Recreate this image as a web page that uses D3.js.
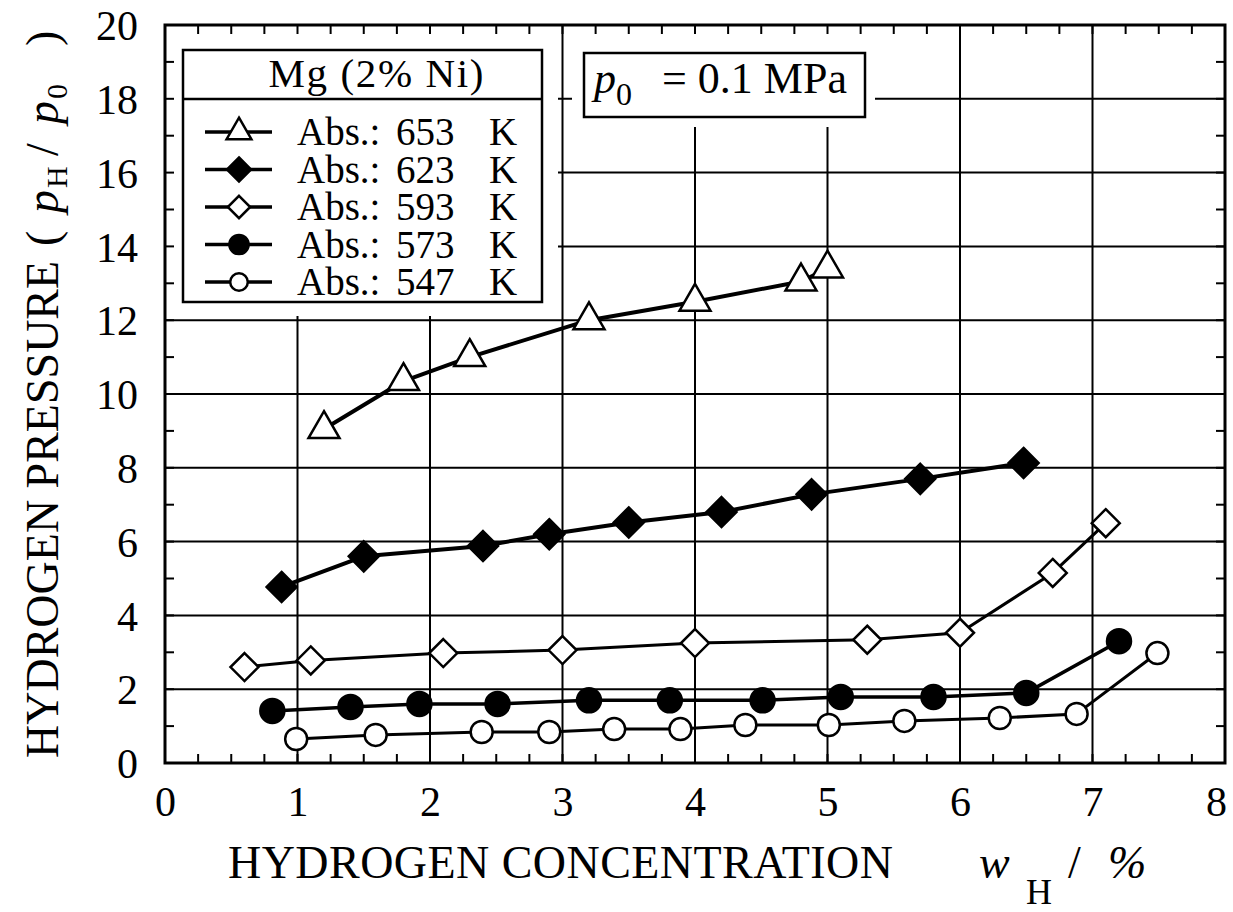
<!DOCTYPE html>
<html><head><meta charset="utf-8">
<script src="https://cdn.jsdelivr.net/npm/d3@7"></script>
<style>body{margin:0;background:#fff}svg{display:block}text{font-family:"Liberation Serif","Times New Roman",serif;fill:#000}</style>
</head><body>
<svg id="chart" width="1233" height="912"></svg>
<script>
// ---- data ----
const xTickValues = [0, 1, 2, 3, 4, 5, 6, 7, 8];
const yTickValues = [0, 2, 4, 6, 8, 10, 12, 14, 16, 18, 20];
const legendTitle = "Mg (2% Ni)";
const seriesTemps = ["653", "623", "593", "573", "547"];

const x653 = [1.2, 1.8, 2.3, 3.2, 4.0, 4.8, 5.0];
const y653 = [9.05, 10.35, 11.0, 12.0, 12.5, 13.05, 13.4];

const x623 = [0.88, 1.5, 2.4, 2.9, 3.5, 4.2, 4.88, 5.7, 6.48];
const y623 = [4.77, 5.6, 5.88, 6.2, 6.52, 6.8, 7.28, 7.7, 8.13];

const x593 = [0.6, 1.1, 2.1, 3.0, 4.0, 5.3, 6.0, 6.7, 7.1];
const y593 = [2.6, 2.78, 2.98, 3.06, 3.25, 3.34, 3.53, 5.15, 6.5];

const x573 = [0.81, 1.4, 1.92, 2.51, 3.2, 3.81, 4.51, 5.1, 5.8, 6.5, 7.2];
const y573 = [1.41, 1.52, 1.6, 1.6, 1.7, 1.7, 1.7, 1.79, 1.79, 1.9, 3.3];

const x547 = [0.99, 1.59, 2.39, 2.9, 3.39, 3.89, 4.38, 5.01, 5.58, 6.3, 6.88, 7.49];
const y547 = [0.65, 0.76, 0.84, 0.84, 0.92, 0.92, 1.03, 1.03, 1.14, 1.22, 1.33, 2.98];

// ---- layout ----
const svg = d3.select("#chart");
const L = 165, R = 1225, T = 25, B = 763;
const x = d3.scaleLinear().domain([0, 8]).range([L, R]);
const y = d3.scaleLinear().domain([0, 20]).range([B, T]);

const series = [
  {xs: x653, ys: y653, shape: "tri", fill: "#fff", lw: 4, size: 31},
  {xs: x623, ys: y623, shape: "dia", fill: "#000", lw: 4, size: 15},
  {xs: x593, ys: y593, shape: "dia", fill: "#fff", lw: 3, size: 14},
  {xs: x573, ys: y573, shape: "cir", fill: "#000", lw: 3.5, size: 12},
  {xs: x547, ys: y547, shape: "cir", fill: "#fff", lw: 3, size: 11}
];

// gridlines
const g = svg.append("g");
xTickValues.filter(v => v > 0 && v < 8).forEach(v => {
  g.append("line").attr("x1", x(v)).attr("x2", x(v)).attr("y1", T).attr("y2", B)
    .attr("stroke", "#000").attr("stroke-width", 2);
});
yTickValues.filter(v => v > 0 && v < 20).forEach(v => {
  g.append("line").attr("x1", L).attr("x2", R).attr("y1", y(v)).attr("y2", y(v))
    .attr("stroke", "#000").attr("stroke-width", 2);
});

// white pads behind the boxes
svg.append("rect").attr("x", L + 1).attr("y", T + 1).attr("width", 558 - L - 1).attr("height", 316 - T - 1).attr("fill", "#fff");
svg.append("rect").attr("x", 572).attr("y", T + 1).attr("width", 875 - 572).attr("height", 127 - T - 1).attr("fill", "#fff");

// minor ticks
const tickLen = 9;
d3.range(0, 8.001, 0.25).forEach(v => {
  svg.append("line").attr("x1", x(v)).attr("x2", x(v)).attr("y1", B).attr("y2", B - tickLen).attr("stroke", "#000").attr("stroke-width", 2);
  svg.append("line").attr("x1", x(v)).attr("x2", x(v)).attr("y1", T).attr("y2", T + tickLen).attr("stroke", "#000").attr("stroke-width", 2);
});
d3.range(0, 20.001, 1).forEach(v => {
  svg.append("line").attr("x1", L).attr("x2", L + tickLen).attr("y1", y(v)).attr("y2", y(v)).attr("stroke", "#000").attr("stroke-width", 2);
  svg.append("line").attr("x1", R).attr("x2", R - tickLen).attr("y1", y(v)).attr("y2", y(v)).attr("stroke", "#000").attr("stroke-width", 2);
});

// frame
svg.append("rect").attr("x", L).attr("y", T).attr("width", R - L).attr("height", B - T)
  .attr("fill", "none").attr("stroke", "#000").attr("stroke-width", 3);

// axes tick labels
const xAxis = d3.axisBottom(x).tickValues(xTickValues).tickSize(0).tickPadding(0);
const gx = svg.append("g").attr("transform", `translate(0,${B})`).call(xAxis);
gx.select(".domain").remove();
gx.selectAll("text").attr("y", 53).attr("dy", null).attr("font-size", 42)
  .attr("x", d => d === 8 ? -9 : 0)
  .attr("font-family", "Liberation Serif").attr("fill", "#000");

const yAxis = d3.axisLeft(y).tickValues(yTickValues).tickSize(0).tickPadding(0);
const gy = svg.append("g").attr("transform", `translate(138,0)`).call(yAxis);
gy.select(".domain").remove();
gy.selectAll("text").attr("x", 0).attr("dy", "0.35em").attr("font-size", 42)
  .attr("font-family", "Liberation Serif").attr("fill", "#000");

// axis titles
const xt = svg.append("text").attr("x", 228).attr("y", 878).attr("font-size", 46);
xt.append("tspan").attr("textLength", 665).attr("lengthAdjust", "spacing").text("HYDROGEN CONCENTRATION");
xt.append("tspan").attr("x", 979).attr("font-style", "italic").text("w");
xt.append("tspan").attr("x", 1026).attr("dy", 26).attr("font-size", 36).text("H");
xt.append("tspan").attr("x", 1068).attr("dy", -26).text("/");
xt.append("tspan").attr("x", 1108).attr("font-style", "italic").text("%");

const yt = svg.append("g").attr("transform", "translate(58,758) rotate(-90)");
const ytText = (xx, dy, txt, fs, it) => yt.append("text").attr("x", xx).attr("y", dy)
  .attr("font-size", fs).attr("font-style", it ? "italic" : "normal").text(txt);
ytText(0, 0, "HYDROGEN PRESSURE", 46, false);
ytText(512, 0, "(", 46, false);
ytText(545, 0, "p", 46, true);
ytText(570, 9, "H", 30, false);
ytText(602, 0, "/", 46, false);
ytText(634, 0, "p", 46, true);
ytText(659, 9, "0", 30, false);
ytText(712, 0, ")", 46, false);

// marker drawing
function drawMarker(sel, s, cx, cy, k) {
  const sz = s.size * k;
  if (s.shape === "cir") {
    sel.append("circle").attr("cx", cx).attr("cy", cy).attr("r", sz)
      .attr("fill", s.fill).attr("stroke", "#000").attr("stroke-width", 2.5);
  } else if (s.shape === "dia") {
    const p = d3.path();
    p.moveTo(cx, cy - sz); p.lineTo(cx + sz, cy); p.lineTo(cx, cy + sz); p.lineTo(cx - sz, cy); p.closePath();
    sel.append("path").attr("d", p.toString()).attr("fill", s.fill).attr("stroke", "#000").attr("stroke-width", 2.5);
  } else {
    const h = sz * Math.sqrt(3) / 2;
    const p = d3.path();
    p.moveTo(cx, cy - 2 * h / 3); p.lineTo(cx + sz / 2, cy + h / 3); p.lineTo(cx - sz / 2, cy + h / 3); p.closePath();
    sel.append("path").attr("d", p.toString()).attr("fill", s.fill).attr("stroke", "#000").attr("stroke-width", 2.5);
  }
}

// series
const line = d3.line().x(d => x(d[0])).y(d => y(d[1]));
series.forEach(s => {
  const pts = s.xs.map((v, i) => [v, s.ys[i]]);
  svg.append("path").datum(pts).attr("d", line).attr("fill", "none")
    .attr("stroke", "#000").attr("stroke-width", s.lw).attr("stroke-linejoin", "round");
  const mg = svg.append("g");
  pts.forEach(p => drawMarker(mg, s, x(p[0]), y(p[1]), 1));
});

// legend
const lg = svg.append("g");
lg.append("rect").attr("x", 183).attr("y", 50).attr("width", 359).attr("height", 252)
  .attr("fill", "#fff").attr("stroke", "#000").attr("stroke-width", 2.5);
lg.append("line").attr("x1", 183).attr("x2", 542).attr("y1", 99).attr("y2", 99).attr("stroke", "#000").attr("stroke-width", 2.5);
lg.append("text").attr("x", 376).attr("y", 87).attr("text-anchor", "middle").attr("font-size", 41)
  .attr("textLength", 215).attr("lengthAdjust", "spacing").text(legendTitle);
series.forEach((s, i) => {
  const cy = 132 + i * 37.5;
  lg.append("line").attr("x1", 205).attr("x2", 272).attr("y1", cy).attr("y2", cy).attr("stroke", "#000").attr("stroke-width", 3.5);
  drawMarker(lg, s, 239, cy, 0.8);
  lg.append("text").attr("x", 297).attr("y", cy + 13).attr("font-size", 39).text("Abs.:");
  lg.append("text").attr("x", 396).attr("y", cy + 13).attr("font-size", 39).text(seriesTemps[i]);
  lg.append("text").attr("x", 489).attr("y", cy + 13).attr("font-size", 39).text("K");
});

// p0 box
svg.append("rect").attr("x", 584).attr("y", 53).attr("width", 281).attr("height", 64)
  .attr("fill", "#fff").attr("stroke", "#000").attr("stroke-width", 2.5);
const pt = svg.append("text").attr("x", 594).attr("y", 93).attr("font-size", 44);
pt.append("tspan").attr("font-style", "italic").text("p");
pt.append("tspan").attr("dy", 12).attr("font-size", 32).text("0");
pt.append("tspan").attr("x", 662).attr("dy", -12).text("= 0.1 MPa");
</script>
</body></html>
